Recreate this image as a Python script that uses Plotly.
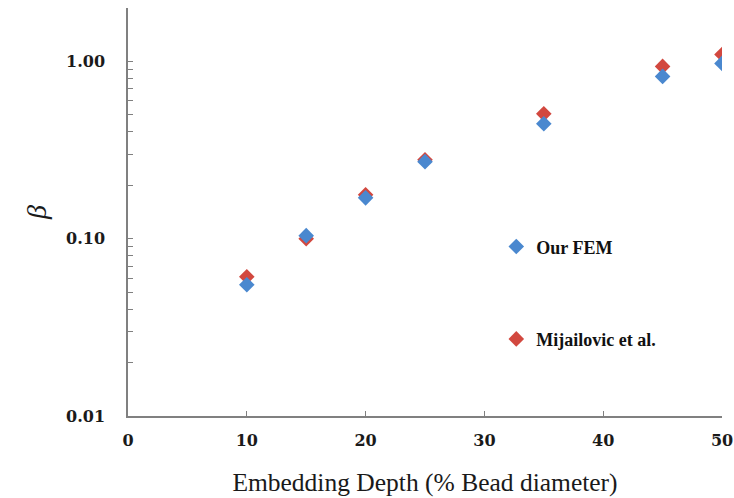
import plotly.graph_objects as go

depth = [10, 15, 20, 25, 35, 45, 50]
our_fem = [0.055, 0.104, 0.170, 0.272, 0.445, 0.823, 0.974]
mijailovic = [0.061, 0.100, 0.177, 0.279, 0.506, 0.937, 1.094]
series_names = ["Our FEM", "Mijailovic et al."]
x_ticks = [0, 10, 20, 30, 40, 50]
y_major = [0.01, 0.1, 1.0]
y_major_labels = ["0.01", "0.10", "1.00"]

yvals = []
ytext = []
for dec in [0.01, 0.1, 1.0]:
    for k in range(1, 10):
        v = round(dec * k, 6)
        if v > 2.0001:
            break
        yvals.append(v)
        if k == 1:
            ytext.append(y_major_labels[y_major.index(dec)])
        else:
            ytext.append("")
yvals.append(2.0)
ytext.append("")

tickfont = dict(family="DejaVu Serif", size=16, color="#1a1a1a", weight="bold")

fig = go.Figure()
fig.add_trace(go.Scatter(x=depth, y=mijailovic, mode="markers", name=series_names[1],
                         legendgroup="b", legendrank=2,
                         marker=dict(symbol="diamond", size=12, color="#D2483F")))
fig.add_trace(go.Scatter(x=depth, y=our_fem, mode="markers", name=series_names[0],
                         legendgroup="a", legendrank=1,
                         marker=dict(symbol="diamond", size=12, color="#4A88CF")))

fig.update_layout(
    width=734, height=498,
    margin=dict(l=128, r=12, t=8, b=82),
    paper_bgcolor="white", plot_bgcolor="white",
    font=dict(family="Liberation Serif", color="#1a1a1a"),
    legend=dict(x=0.62, y=0.46, xanchor="left", yanchor="top",
                font=dict(family="Liberation Serif", size=18, color="#111", weight="bold"),
                tracegroupgap=66, bgcolor="rgba(0,0,0,0)", itemwidth=30),
    xaxis=dict(range=[0, 50], tickvals=x_ticks, ticks="inside", ticklen=5,
               showline=True, linecolor="#808080", linewidth=1.5, tickcolor="#808080",
               showgrid=False, zeroline=False, automargin=False,
               ticklabelstandoff=9,
               tickfont=tickfont,
               title=dict(text="Embedding Depth (% Bead diameter)",
                          font=dict(family="Liberation Serif", size=25.5, color="#1a1a1a"), standoff=24)),
    yaxis=dict(type="log", range=[-2, 0.30103], tickvals=yvals, ticktext=ytext,
               ticks="inside", ticklen=5, automargin=True,
               showline=True, linecolor="#808080", linewidth=1.5, tickcolor="#808080",
               showgrid=False, zeroline=False,
               ticklabelstandoff=18,
               tickfont=tickfont,
               title=dict(text="<i>β</i>", font=dict(family="Liberation Serif", size=28, color="#1a1a1a"),
                          standoff=11)),
)
fig.write_html("out.html")
